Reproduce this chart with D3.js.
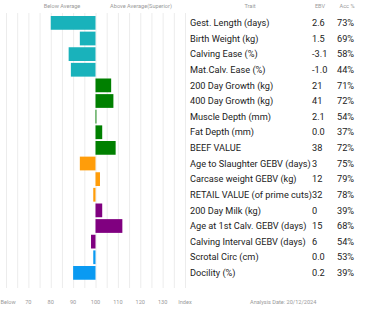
<!DOCTYPE html>
<html>
<head>
<meta charset="utf-8">
<script src="https://cdn.jsdelivr.net/npm/d3@7"></script>
<style>
  body { margin: 0; background: #fff; }
  svg { display: block; font-family: Roboto, "Open Sans", sans-serif; }
</style>
</head>
<body>
<svg id="chart" width="390" height="312"></svg>
<script>
  // trait rows, top to bottom
  const traits = ["Gest. Length (days)", "Birth Weight (kg)", "Calving Ease (%)", "Mat.Calv. Ease (%)",
    "200 Day Growth (kg)", "400 Day Growth (kg)", "Muscle Depth (mm)", "Fat Depth (mm)", "BEEF VALUE",
    "Age to Slaughter GEBV (days)", "Carcase weight GEBV (kg)", "RETAIL VALUE (of prime cuts)",
    "200 Day Milk (kg)", "Age at 1st Calv. GEBV (days)", "Calving Interval GEBV (days)",
    "Scrotal Circ (cm)", "Docility (%)"];
  const ebv = ["2.6", "1.5", "-3.1", "-1.0", "21", "41", "2.1", "0.0", "38", "3", "12", "32", "0", "15", "6", "0.0", "0.2"];
  const acc = ["73%", "69%", "58%", "44%", "71%", "72%", "54%", "37%", "72%", "75%", "79%", "78%", "39%", "68%", "54%", "53%", "39%"];
  // index values (100 = average)
  const index = [80, 93, 88, 89, 107, 108, 100.4, 103, 109, 93, 102, 99, 103, 112, 98, 99, 90];
  const group = [0, 0, 0, 0, 1, 1, 1, 1, 1, 2, 2, 2, 3, 3, 3, 4, 4];
  const groupColors = ["#19b2bb", "#008000", "#ff9d0a", "#800080", "#0a9af2"];
  const tickValues = [60, 70, 80, 90, 100, 110, 120, 130, 140];
  const tickLabels = ["Below", "70", "80", "90", "100", "110", "120", "130", "Index"];

  const svg = d3.select("#chart");

  const x = d3.scaleLinear().domain([60, 140]).range([6, 185]);
  const y = d3.scaleBand()
    .domain(d3.range(traits.length))
    .range([16, 279.75])
    .paddingInner(0.12)
    .paddingOuter(0);

  // grid lines every 5 index points
  svg.append("g")
    .selectAll("line")
    .data(d3.range(60, 141, 5))
    .join("line")
      .attr("x1", d => x(d) + 0.5)
      .attr("x2", d => x(d) + 0.5)
      .attr("y1", 13)
      .attr("y2", 288)
      .attr("stroke", "#ececec")
      .attr("stroke-width", 1);

  // bars
  svg.append("g")
    .selectAll("rect")
    .data(index)
    .join("rect")
      .attr("x", d => x(Math.min(d, 100)))
      .attr("y", (d, i) => y(i))
      .attr("width", d => Math.abs(x(d) - x(100)))
      .attr("height", y.bandwidth())
      .attr("fill", (d, i) => groupColors[group[i]]);

  // headers
  const head = svg.append("g")
    .attr("font-size", 5.6)
    .attr("fill", "#9a9a9a");
  head.append("text").attr("x", 62).attr("y", 8).attr("text-anchor", "middle").text("Below Average");
  head.append("text").attr("x", 141).attr("y", 8).attr("text-anchor", "middle").text("Above Average(Superior)");
  head.append("text").attr("x", 250).attr("y", 8).attr("text-anchor", "middle").text("Trait");
  head.append("text").attr("x", 320).attr("y", 8).attr("text-anchor", "middle").text("EBV");
  head.append("text").attr("x", 347).attr("y", 8).attr("text-anchor", "middle").text("Acc %");

  // table text
  const rows = svg.append("g")
    .attr("font-size", 9.2)
    .attr("fill", "#222");
  rows.selectAll("text.trait")
    .data(traits)
    .join("text")
      .attr("class", "trait")
      .attr("x", 190)
      .attr("y", (d, i) => y(i) + y.bandwidth() / 2)
      .attr("dy", "0.35em")
      .text(d => d);
  rows.selectAll("text.ebv")
    .data(ebv)
    .join("text")
      .attr("class", "ebv")
      .attr("x", 312)
      .attr("y", (d, i) => y(i) + y.bandwidth() / 2)
      .attr("dy", "0.35em")
      .text(d => d);
  rows.selectAll("text.acc")
    .data(acc)
    .join("text")
      .attr("class", "acc")
      .attr("x", 337)
      .attr("y", (d, i) => y(i) + y.bandwidth() / 2)
      .attr("dy", "0.35em")
      .text(d => d);

  // bottom index axis; "Below" hugs the left edge
  const axis = svg.append("g")
    .attr("font-size", 5.6)
    .attr("fill", "#9a9a9a");
  axis.selectAll("text")
    .data(tickValues)
    .join("text")
      .attr("x", (d, i) => i === 0 ? 0.5 : x(d))
      .attr("y", 304)
      .attr("text-anchor", (d, i) => i === 0 ? "start" : "middle")
      .text((d, i) => tickLabels[i]);
  axis.append("text")
    .attr("x", 250)
    .attr("y", 304)
    .text("Analysis Date: 20/12/2024");
</script>
</body>
</html>
